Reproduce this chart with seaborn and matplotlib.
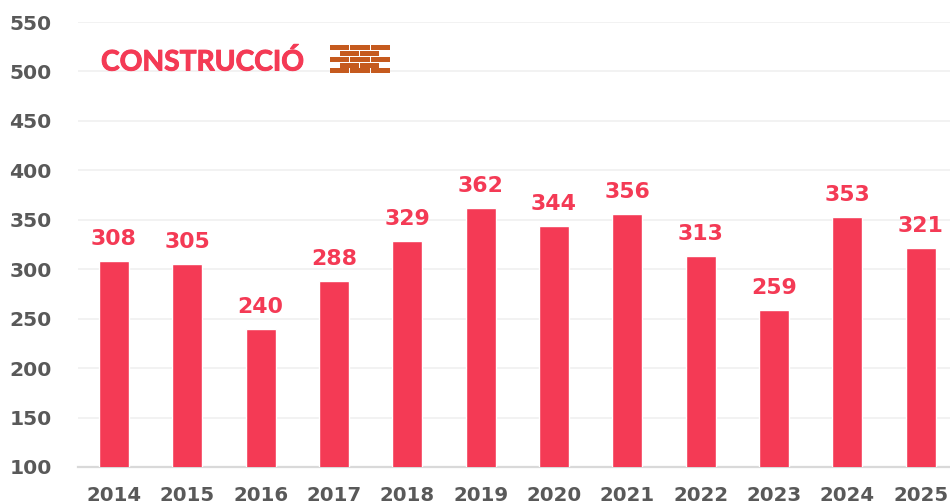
import matplotlib
matplotlib.use("Agg")
import matplotlib.pyplot as plt
import matplotlib.patheffects as pe
from matplotlib.patches import Rectangle
import seaborn as sns
import pandas as pd

years = ["2014","2015","2016","2017","2018","2019","2020","2021","2022","2023","2024","2025"]
values = [308,305,240,288,329,362,344,356,313,259,353,321]
yticks = [100,150,200,250,300,350,400,450,500,550]
title = "CONSTRUCCIÓ"

RED = "#F43A55"
GREY = "#595959"
W, H = 950, 504

sns.set_theme(style="white")
fig = plt.figure(figsize=(W/100, H/100), dpi=100, facecolor="white")
ax = fig.add_axes([78/W, 1-467/H, (W-78)/W, (467-22)/H])

df = pd.DataFrame({"year": years, "value": values})
sns.barplot(data=df, x="year", y="value", color=RED, saturation=1, width=0.41, ax=ax, zorder=3)

ax.set_xlim(-0.49, -0.49 + (W-78)/73.35)
ax.set_ylim(100, 550)
ax.set_yticks(yticks)
ax.set_xlabel(""); ax.set_ylabel("")
ax.yaxis.grid(True, color="#F1F1F1", lw=1.3, zorder=0)
ax.set_axisbelow(True)
for s in ["top","right","left"]:
    ax.spines[s].set_visible(False)
ax.spines["bottom"].set_color("#D9D9D9")
ax.spines["bottom"].set_linewidth(1.6)
ax.tick_params(axis="both", length=0)
for t in ax.get_yticklabels():
    t.set(fontsize=14.6, fontweight="bold", color=GREY, family="DejaVu Sans")
ax.tick_params(axis="y", pad=19)
ax.tick_params(axis="x", pad=14)
for t in ax.get_xticklabels():
    t.set(fontsize=14.2, fontweight="bold", color=GREY, family="DejaVu Sans")

for i, v in enumerate(values):
    ax.annotate(str(v), (i, v), xytext=(0, 12), textcoords="offset pixels",
                ha="center", va="bottom", fontsize=15.8, fontweight="bold",
                color=RED, family="DejaVu Sans", annotation_clip=False)

fig.text(101/W, 1-62/H, title, fontsize=20.3, fontweight="bold", color=RED,
         family="Lato", ha="left", va="center",
         path_effects=[pe.withStroke(linewidth=0.7, foreground=RED)])

# brick icon (decoration, in figure pixels)
BRICK = "#C55A1E"
rows = [(45,3),(51,2),(57,3),(63,2),(68,3)]
for yy, n in rows:
    if n == 3:
        xs = [(330,19),(350,20),(371,19)]
    else:
        xs = [(340,19),(360,19)]
    for x0, w0 in xs:
        fig.add_artist(Rectangle((x0/W, 1-(yy+5)/H), w0/W, 5/H,
                                 transform=fig.transFigure, color=BRICK, lw=0))

fig.savefig("out.png", dpi=100)
